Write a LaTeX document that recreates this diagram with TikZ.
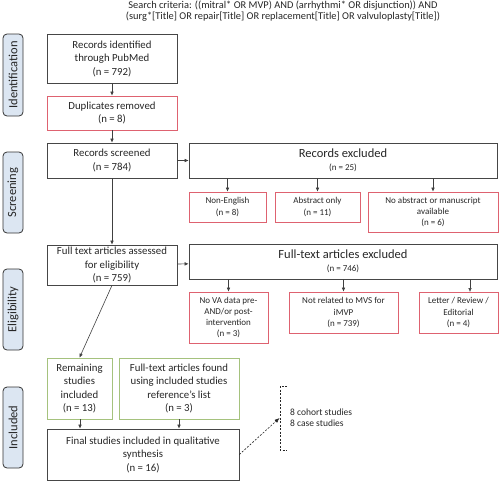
\documentclass[tikz,border=0pt]{standalone}
\usepackage{fontspec}
\setmainfont{Carlito}
\usetikzlibrary{arrows.meta}
\definecolor{redc}{RGB}{222,98,112}
\definecolor{greenc}{RGB}{165,194,125}
\definecolor{sideblue}{RGB}{220,230,242}
\definecolor{boxc}{RGB}{70,70,70}
\begin{document}
\begin{tikzpicture}[x=1pt,y=-1pt,
  box/.style={draw=boxc, line width=0.7pt, align=center, inner sep=1pt, text=black!85, font=\fontsize{10.8}{13.5}\selectfont},
  redbox/.style={box, draw=redc, font=\fontsize{9}{11.3}\selectfont},
  greenbox/.style={box, draw=greenc},
  sidelab/.style={draw=black!80, fill=sideblue, rounded corners=4pt, line width=0.8pt, rotate=90, inner sep=0pt, minimum height=20pt, text=black!85, font=\fontsize{12.5}{14}\selectfont},
  arr/.style={-{Latex[length=4pt,width=3.6pt]}, draw=black!75, line width=0.6pt},
  darr/.style={-{Latex[length=5pt,width=4pt]}, draw=black!85, line width=0.6pt, dash pattern=on 2pt off 1.5pt},
  small/.style={font=\fontsize{9.5}{10.7}\selectfont, align=left, inner sep=0pt, text=black!85}
]
\useasboundingbox (0,0) rectangle (500,482);

% title
\node[align=center, font=\fontsize{10.4}{11}\selectfont, text=black!85] (title) at (283,11.5)
  {Search criteria: ((mitral* OR MVP) AND (arrhythmi* OR disjunction)) AND\\
   (surg*[Title] OR repair[Title] OR replacement[Title] OR valvuloplasty[Title])};

% side labels
\node[sidelab, minimum width=82pt] (lid) at (13,75) {Identification};
\node[sidelab, minimum width=81pt] (lsc) at (13,192.5) {Screening};
\node[sidelab, minimum width=81pt] (lel) at (13,309.5) {Eligibility};
\node[sidelab, minimum width=81pt] (lin) at (13,427.5) {Included};

% left column
\node[box, minimum width=130pt, minimum height=49pt] (b1) at (112,58.5) {Records identified\\through PubMed\\(n = 792)};
\node[box, draw=redc, minimum width=130pt, minimum height=34pt] (b2) at (112,113) {Duplicates removed\\(n = 8)};
\node[box, minimum width=130pt, minimum height=35pt] (b3) at (112,160.5) {Records screened\\(n = 784)};
\node[box, minimum width=130pt, minimum height=40pt] (b4) at (112,265) {Full text articles assessed\\for eligibility\\(n = 759)};

% records excluded
\node[box, minimum width=308pt, minimum height=35pt] (ex1) at (343,160.5) {{\fontsize{12.5}{14}\selectfont Records excluded}\\{\fontsize{9}{12}\selectfont (n = 25)}};
\node[redbox, minimum width=77pt, minimum height=30pt] (s1) at (227.5,207) {Non-English\\(n = 8)};
\node[redbox, minimum width=85pt, minimum height=30pt] (s2) at (317.5,207) {Abstract only\\(n = 11)};
\node[redbox, minimum width=130pt, minimum height=40pt] (s3) at (433,212) {No abstract or manuscript\\available\\(n = 6)};

% full-text excluded
\node[box, minimum width=308pt, minimum height=35pt] (ex2) at (343,261.5) {{\fontsize{12.5}{14}\selectfont Full-text articles excluded}\\{\fontsize{9}{12}\selectfont (n = 746)}};
\node[redbox, minimum width=79pt, minimum height=51pt] (e1) at (228.5,317.5) {No VA data pre-\\AND/or post-\\intervention\\(n = 3)};
\node[redbox, minimum width=109pt, minimum height=41pt] (e2) at (343.5,312.5) {Not related to MVS for\\iMVP\\(n = 739)};
\node[redbox, minimum width=79pt, minimum height=41pt] (e3) at (458.5,312.5) {Letter / Review /\\Editorial\\(n = 4)};

% included
\node[greenbox, minimum width=65pt, minimum height=61pt] (g1) at (79.5,388.5) {Remaining\\studies\\included\\(n = 13)};
\node[greenbox, minimum width=120pt, minimum height=61pt] (g2) at (179,388.5) {Full-text articles found\\using included studies\\reference’s list\\(n = 3)};
\node[box, minimum width=192pt, minimum height=51pt] (f) at (143,454.5) {Final studies included in qualitative\\synthesis\\(n = 16)};

% connectors
\coordinate (c80) at (80,0);
\coordinate (e3top) at (470,292);
\draw[arr] (b1) -- (b2);
\draw[arr] (b2) -- (b3);
\draw[arr] (b3) -- (b4);
\draw[arr] (b3) -- (ex1);
\draw[arr] (ex1.south -| s1) -- (s1);
\draw[arr] (ex1.south -| s2) -- (s2);
\draw[arr] (ex1.south -| s3) -- (s3);
\draw[arr] (b4) -- (ex2);
\draw[arr] (ex2.south -| e1) -- (e1);
\draw[arr] (ex2.south -| e2) -- (e2);
\draw[arr] (ex2.south -| e3top) -- (e3top);
\draw[arr] (b4.south) -- (g1.north);
\draw[arr] (g1.south -| c80) -- (f.north -| c80);
\draw[arr] (g2) -- (f.north -| g2);

% bracket and dashed arrow
\coordinate (bt) at (287,386);
\coordinate (bb) at (287,450);
\coordinate (bm) at (279.5,418);
\draw[black!85, line width=0.6pt, dash pattern=on 2pt off 1.5pt] (bt) -- (280,386) -- (280,450) -- (bb);
\draw[darr] (f.east) -- (bm);
\node[small, anchor=west] (txt) at (290,418) {8 cohort studies\\8 case studies};
\end{tikzpicture}
\end{document}
